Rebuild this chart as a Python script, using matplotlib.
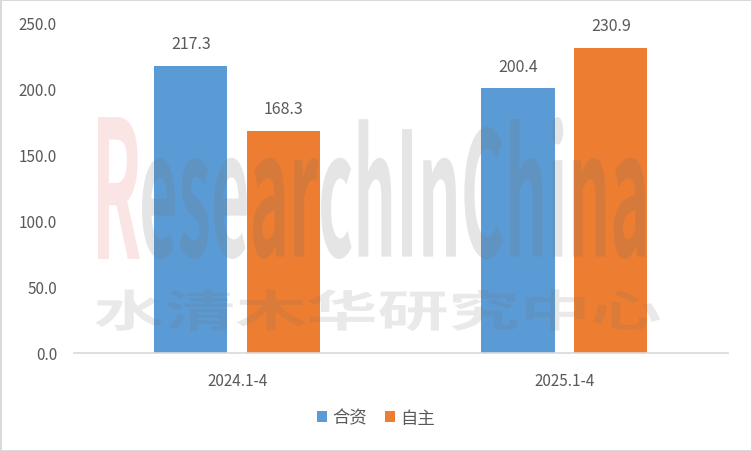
import numpy as np
import matplotlib
matplotlib.use("Agg")
import matplotlib.pyplot as plt
from matplotlib.textpath import TextPath
from matplotlib.patches import PathPatch
from matplotlib.font_manager import FontProperties
from matplotlib.transforms import Affine2D

plt.rcParams["font.family"] = ["Noto Sans CJK SC", "DejaVu Sans"]

categories = ["2024.1-4", "2025.1-4"]
series_names = ["合资", "自主"]
jv_values = [217.3, 200.4]
own_values = [168.3, 230.9]
colors = ["#5B9BD5", "#ED7D31"]
TXT = "#595959"

fig = plt.figure(figsize=(7.52, 4.52), dpi=100)
fig.patch.set_edgecolor("#D9D9D9")
fig.patch.set_linewidth(2)
ax = fig.add_axes([0.098, 0.217, 0.87, 0.73])

x = np.arange(len(categories))
w = 0.224
off = 0.142
for vals, name, col, sgn in [(jv_values, series_names[0], colors[0], -1),
                             (own_values, series_names[1], colors[1], 1)]:
    bars = ax.bar(x + sgn * off, vals, width=w, color=col, label=name, zorder=2)
    for b, v in zip(bars, vals):
        ax.annotate(f"{v:.1f}", (b.get_x() + b.get_width() / 2, v),
                    xytext=(0, 10), textcoords="offset points",
                    ha="center", va="bottom", fontsize=11.5, color=TXT)

ax.set_xlim(-0.5, 1.5)
ax.set_ylim(0, 250)
ax.set_yticks(np.arange(0, 251, 50))
ax.set_yticklabels([f"{t:.1f}" for t in np.arange(0, 251, 50)])
ax.set_xticks(x)
ax.set_xticklabels(categories)
ax.tick_params(axis="both", length=0, labelsize=11, labelcolor=TXT)
ax.tick_params(axis="x", pad=14)
ax.tick_params(axis="y", pad=12)
for s in ["top", "right", "left"]:
    ax.spines[s].set_visible(False)
ax.spines["bottom"].set_color("#D9D9D9")
ax.spines["bottom"].set_linewidth(1.2)

fig.legend(loc="center", bbox_to_anchor=(0.5, 0.074), ncol=2, frameon=False,
           fontsize=12.5, labelcolor=TXT, handlelength=0.6, handleheight=0.6,
           handletextpad=0.3, columnspacing=1.0)

# watermark
def stamp(text, box, color, alpha, weight="bold"):
    tp = TextPath((0, 0), text, size=1,
                  prop=FontProperties(family=["Noto Sans CJK SC"], weight=weight))
    bb = tp.get_extents()
    x0, y0, x1, y1 = box
    tr = (Affine2D().translate(-bb.x0, -bb.y0)
          .scale((x1 - x0) / bb.width, (y1 - y0) / bb.height)
          .translate(x0, y0))
    fig.patches.append(PathPatch(tr.transform_path(tp), transform=fig.transFigure,
                                 facecolor=color, edgecolor="none", alpha=alpha,
                                 zorder=10))

W, H = 752, 452
stamp("R", (98 / W, (H - 260) / H, 140 / W, (H - 118) / H), "#E05050", 0.15)
stamp("esearchInChina", (142 / W, (H - 260) / H, 645 / W, (H - 118) / H), "#707070", 0.18)
stamp("水清木华研究中心", (95 / W, (H - 332) / H, 660 / W, (H - 290) / H), "#707070", 0.15)

fig.savefig("out.png", dpi=100)
